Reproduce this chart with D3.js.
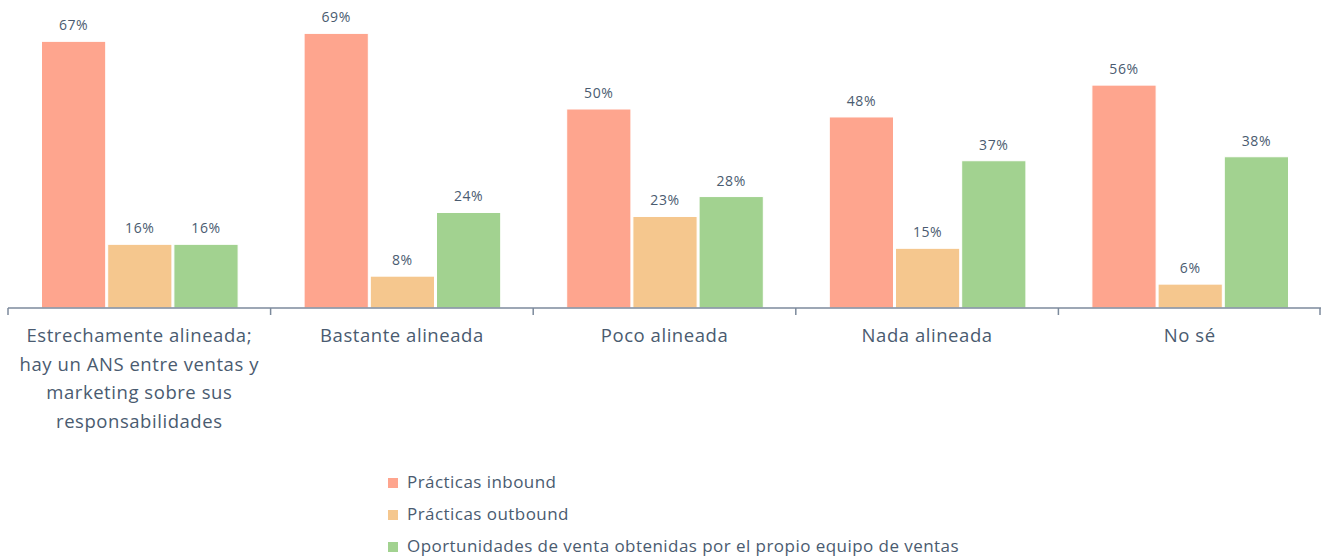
<!DOCTYPE html>
<html>
<head>
<meta charset="utf-8">
<script src="https://cdn.jsdelivr.net/npm/d3@7"></script>
<style>
  body { margin: 0; background: #fff; }
  svg text { font-family: "Open Sans", Lato, sans-serif; fill: #4a5b70; }
</style>
</head>
<body>
<div id="chart"></div>
<script>
const categories = [
  'Estrechamente alineada; hay un ANS entre ventas y marketing sobre sus responsabilidades',
  'Bastante alineada',
  'Poco alineada',
  'Nada alineada',
  'No sé'
]
const categoryLines = [
  ['Estrechamente alineada;', 'hay un ANS entre ventas y', 'marketing sobre sus', 'responsabilidades'],
  ['Bastante alineada'],
  ['Poco alineada'],
  ['Nada alineada'],
  ['No sé']
]
const seriesNames = [
  'Prácticas inbound',
  'Prácticas outbound',
  'Oportunidades de venta obtenidas por el propio equipo de ventas'
]
const inbound = [67, 69, 50, 48, 56]
const outbound = [16, 8, 23, 15, 6]
const propio = [16, 24, 28, 37, 38]
const colors = ['#fea58e', '#f5c78e', '#a2d290']

const width = 1321
const height = 556
const margin = { top: 0, left: 8, right: 0 }
const baseline = 308

const svg = d3.select('#chart')
  .append('svg')
  .attr('width', width)
  .attr('height', height)

const series = [inbound, outbound, propio]
const rows = categories.map((c, i) => ({ cat: c, vals: series.map(s => s[i]) }))

// Scales
const x0 = d3.scaleBand()
  .domain(categories)
  .range([margin.left, width - margin.right])

const groupPad = 33.5
const x1 = d3.scaleBand()
  .domain(d3.range(seriesNames.length))
  .range([groupPad, x0.bandwidth() - groupPad + 1])
  .paddingInner(0.03)

const y = d3.scaleLinear()
  .domain([0, 78])
  .range([baseline, baseline - 78 * 3.98])

// Bars
const groups = svg.selectAll('.cat')
  .data(rows)
  .join('g')
  .attr('class', 'cat')
  .attr('transform', d => `translate(${x0(d.cat)},0)`)

groups.selectAll('rect')
  .data(d => d.vals.map((v, k) => ({ v, k })))
  .join('rect')
  .attr('x', d => x1(d.k))
  .attr('y', d => y(d.v))
  .attr('width', x1.bandwidth())
  .attr('height', d => y(0) - y(d.v))
  .attr('fill', d => colors[d.k])
  .attr('stroke', '#fff')
  .attr('stroke-width', 1)

groups.selectAll('text.val')
  .data(d => d.vals.map((v, k) => ({ v, k })))
  .join('text')
  .attr('class', 'val')
  .attr('x', d => x1(d.k) + x1.bandwidth() / 2)
  .attr('y', d => y(d.v) - 11)
  .attr('text-anchor', 'middle')
  .attr('font-size', 14)
  .attr('letter-spacing', 0.6)
  .text(d => d.v + '%')

// Bottom axis
const axis = svg.append('g')
  .attr('transform', `translate(0,${baseline})`)

axis.append('line')
  .attr('x1', margin.left)
  .attr('x2', width)
  .attr('stroke', '#7c8a9c')
  .attr('stroke-width', 1.5)

const tickXs = categories.map(c => x0(c)).concat([x0.range()[1] - 1])
axis.selectAll('line.tick')
  .data(tickXs)
  .join('line')
  .attr('class', 'tick')
  .attr('x1', d => d)
  .attr('x2', d => d)
  .attr('y1', 0)
  .attr('y2', 7)
  .attr('stroke', '#7c8a9c')
  .attr('stroke-width', 1.5)

// Category labels
svg.selectAll('text.cat-label')
  .data(categories)
  .join('text')
  .attr('class', 'cat-label')
  .attr('text-anchor', 'middle')
  .attr('font-size', 18.5)
  .attr('letter-spacing', 0.55)
  .each(function (c, i) {
    d3.select(this).selectAll('tspan')
      .data(categoryLines[i])
      .join('tspan')
      .attr('x', x0(c) + x0.bandwidth() / 2)
      .attr('y', (d, j) => 342 + j * 28.5)
      .text(d => d)
  })

// Legend
const legend = svg.append('g')
  .attr('transform', 'translate(388,482)')

const li = legend.selectAll('g')
  .data(seriesNames)
  .join('g')
  .attr('transform', (d, i) => `translate(0,${i * 32})`)

li.append('rect')
  .attr('y', -4)
  .attr('width', 10)
  .attr('height', 10)
  .attr('fill', (d, i) => colors[i])

li.append('text')
  .attr('x', 19)
  .attr('y', 6)
  .attr('font-size', 17)
  .attr('letter-spacing', 0.45)
  .text(d => d)
</script>
</body>
</html>
